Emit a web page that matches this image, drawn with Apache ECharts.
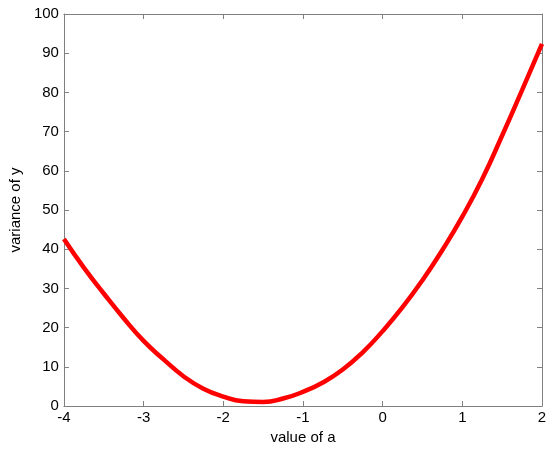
<!DOCTYPE html>
<html>
<head>
<meta charset="utf-8">
<script src="https://cdn.jsdelivr.net/npm/echarts@6/dist/echarts.min.js"></script>
<style>
  html, body { margin: 0; padding: 0; background: #fff; }
  #chart { width: 550px; height: 453px; }
</style>
</head>
<body>
<div id="chart"></div>
<script>
// values
const aValues = [-4, -3.75, -3.5, -3.25, -3, -2.75, -2.5, -2.25, -2, -1.75, -1.5, -1.25,
  -1, -0.75, -0.5, -0.25, 0, 0.25, 0.5, 0.75, 1, 1.25, 1.5, 1.75, 2];
const varY = [42.6, 35.3, 28.7, 22.4, 16.6, 11.9, 7.6, 4.4, 2.4, 1.2, 1.0, 1.9,
  3.6, 6.0, 9.3, 13.7, 19.1, 25.2, 32.1, 39.8, 48.3, 57.9, 69.0, 80.6, 92.4];
const xTicks = [-4, -3, -2, -1, 0, 1, 2];
const yTicks = [0, 10, 20, 30, 40, 50, 60, 70, 80, 90, 100];

const points = aValues.map((a, i) => [a, varY[i]]);

const chart = echarts.init(document.getElementById('chart'));

const axisGray = '#808080';
const font = { color: '#000', fontFamily: 'Liberation Sans, Arial, sans-serif', fontSize: 15 };

const baseAxis = {
  type: 'value',
  axisLine: { show: true, onZero: false, lineStyle: { color: axisGray, width: 1 } },
  axisTick: { show: true, inside: true, length: 5, lineStyle: { color: axisGray } },
  splitLine: { show: false }
};

const xRange = { min: xTicks[0], max: xTicks[xTicks.length - 1], interval: 1 };
const yRange = { min: yTicks[0], max: yTicks[yTicks.length - 1], interval: 10 };

chart.setOption({
  animation: false,
  grid: { left: 57, right: 8, top: 14, bottom: 47 },
  xAxis: [
    Object.assign({}, baseAxis, xRange, {
      position: 'bottom',
      name: 'value of a', nameLocation: 'middle', nameGap: 23,
      nameTextStyle: font,
      axisLabel: Object.assign({ margin: 4 }, font)
    }),
    Object.assign({}, baseAxis, xRange, {
      position: 'top',
      axisLabel: { show: false }
    })
  ],
  yAxis: [
    Object.assign({}, baseAxis, yRange, {
      position: 'left',
      name: 'variance of y', nameLocation: 'middle', nameGap: 36,
      nameTextStyle: font,
      axisLabel: Object.assign({ margin: 5 }, font)
    }),
    Object.assign({}, baseAxis, yRange, {
      position: 'right',
      axisLabel: { show: false }
    })
  ],
  series: [{
    type: 'line',
    data: points,
    smooth: true,
    showSymbol: false,
    lineStyle: { color: '#ff0000', width: 4.5 }
  }]
});
</script>
</body>
</html>
